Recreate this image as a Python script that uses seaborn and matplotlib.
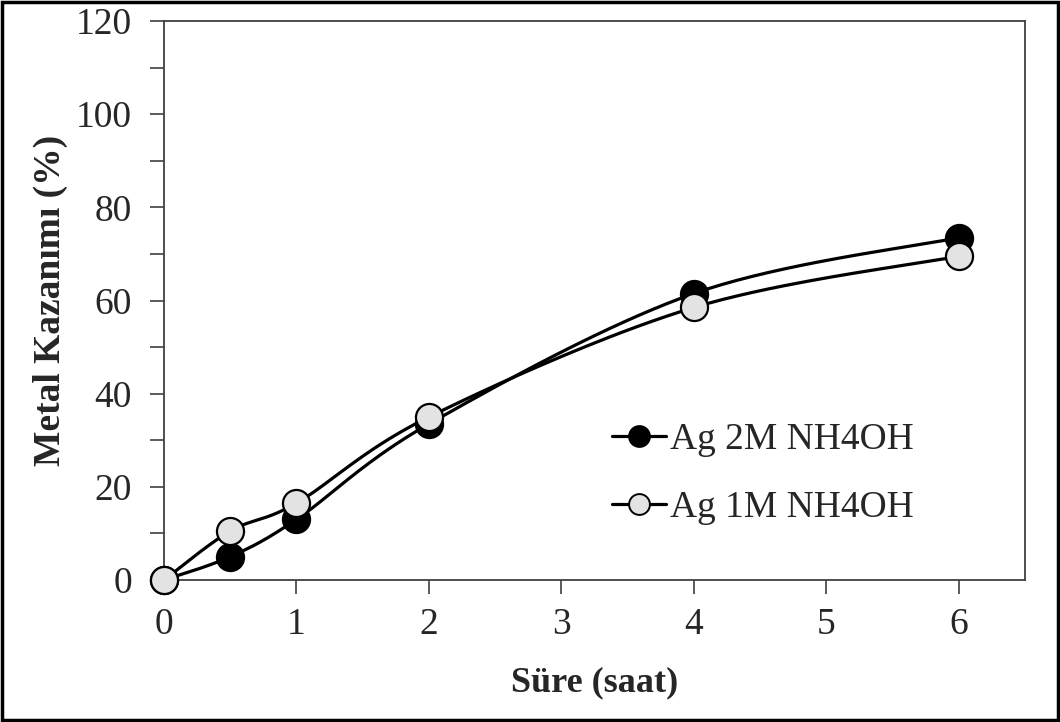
import numpy as np
import pandas as pd
import matplotlib
matplotlib.use("Agg")
import matplotlib.pyplot as plt
from matplotlib.lines import Line2D
from matplotlib.patches import Rectangle
import seaborn as sns

# Leaching time (h) and metal recovery (%) for silver
time_h = [0, 0.5, 1, 2, 4, 6]
ag_2m = [0, 5.0, 13.0, 33.5, 61.5, 73.5]
ag_1m = [0, 10.5, 16.5, 35.0, 58.5, 69.5]
series_labels = ["Ag 2M NH4OH", "Ag 1M NH4OH"]
x_ticks = [0, 1, 2, 3, 4, 5, 6]
y_ticks = [0, 20, 40, 60, 80, 100, 120]

sns.set_theme(style="white")
plt.rcParams["font.family"] = ["Liberation Serif", "DejaVu Serif"]


def smooth_curve(xs, ys, n=40):
    """Cubic Bezier smoothing through the points (Catmull-Rom style)."""
    xs = np.asarray(xs, float)
    ys = np.asarray(ys, float)
    pts = np.column_stack([xs, ys])
    out = [pts[0]]
    for i in range(len(pts) - 1):
        p0 = pts[i - 1] if i > 0 else pts[i]
        p1 = pts[i]
        p2 = pts[i + 1]
        p3 = pts[i + 2] if i + 2 < len(pts) else pts[i + 1]
        c1 = p1 + (p2 - p0) / 6.0
        c2 = p2 - (p3 - p1) / 6.0
        t = np.linspace(0, 1, n)[1:, None]
        seg = ((1 - t) ** 3) * p1 + 3 * ((1 - t) ** 2) * t * c1 \
            + 3 * (1 - t) * t ** 2 * c2 + t ** 3 * p2
        out.extend(seg)
    out = np.array(out)
    return out[:, 0], out[:, 1]


fig = plt.figure(figsize=(10.6, 7.22), dpi=100)
ax = fig.add_axes([164 / 1060, 1 - 580 / 722, (1025 - 164) / 1060, (580 - 21) / 722])

fills = ["black", "#e3e3e3"]
for ys, fc, lab in zip([ag_2m, ag_1m], fills, series_labels):
    cx, cy = smooth_curve(time_h, ys)
    curve = pd.DataFrame({"x": cx, "y": cy})
    sns.lineplot(data=curve, x="x", y="y", ax=ax, color="black", lw=2.3,
                 sort=False, estimator=None, zorder=3)
    pts = pd.DataFrame({"x": time_h, "y": ys})
    sns.scatterplot(data=pts, x="x", y="y", ax=ax, s=380, color=fc,
                    edgecolor="black", linewidth=1.6, zorder=4, clip_on=False)

ax.set_xlim(0, 6.5)
ax.set_ylim(0, 120)
ax.set_xticks(x_ticks)
ax.set_yticks(y_ticks)
ax.set_yticks(np.arange(10, 120, 20), minor=True)
ax.tick_params(axis="both", which="both", direction="out", length=10,
               width=1.2, color="#404040", labelsize=27)
ax.tick_params(axis="both", which="both", left=True, bottom=True)
ax.tick_params(axis="y", which="major", pad=13)
ax.tick_params(axis="x", which="major", pad=10)
for sp in ax.spines.values():
    sp.set_color("#404040")
    sp.set_linewidth(1.3)

ax.set_xlabel("Süre (saat)", fontsize=26, fontweight="bold", labelpad=17)
ax.set_ylabel("Metal Kazanımı (%)", fontsize=27, fontweight="bold", labelpad=6)

handles = [
    Line2D([0], [0], color="black", lw=2.3, marker="o", markersize=15,
           markerfacecolor=fc, markeredgecolor="black", markeredgewidth=1.4)
    for fc in fills
]
ax.legend(handles, series_labels, loc="center left", frameon=False,
          fontsize=27, handlelength=1.45, handletextpad=0.1,
          labelspacing=0.9, bbox_to_anchor=(597 / 1060, 1 - 474 / 722),
          bbox_transform=fig.transFigure, borderaxespad=0)

# Outer frame around the whole chart area
fig.patches.append(Rectangle((0.002, 0.003), 0.996, 0.994, transform=fig.transFigure,
                             fill=False, edgecolor="black", linewidth=2.5))

fig.savefig("out.png", dpi=100)
